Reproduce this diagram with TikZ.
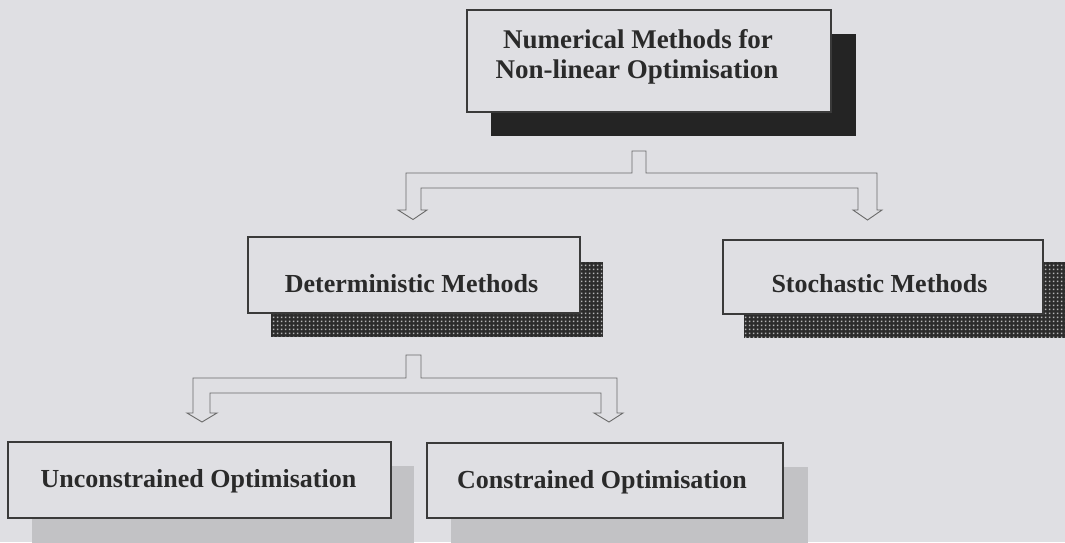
\documentclass[tikz,border=0pt]{standalone}
\usepackage{fontspec}
\setmainfont{Liberation Serif}
\usetikzlibrary{calc,patterns}
\definecolor{bg}{HTML}{DFDFE3}
\definecolor{boxline}{HTML}{3A3A3A}
\definecolor{txt}{HTML}{2A2A2A}
\definecolor{darkshadow}{HTML}{242424}
\definecolor{dotshadow}{HTML}{2C2C2C}
\definecolor{dotlight}{HTML}{B4B4B6}
\definecolor{lightshadow}{HTML}{C2C2C5}
\definecolor{forkline}{HTML}{6A6A6A}
\pgfdeclarepatternformonly{sqdots}{\pgfqpoint{0pt}{0pt}}{\pgfqpoint{4pt}{4pt}}{\pgfqpoint{4pt}{4pt}}{%
  \pgfpathrectangle{\pgfqpoint{1pt}{1pt}}{\pgfqpoint{2pt}{2pt}}\pgfusepath{fill}}
\pgfdeclarelayer{bglayer}
\pgfdeclarelayer{shadowlayer}
\pgfsetlayers{bglayer,shadowlayer,main}
\begin{document}
\begin{tikzpicture}[x=1pt,y=-1pt,
  box/.style={draw=boxline, line width=1.3pt, fill=bg, rectangle, inner sep=0pt},
  lbl/.style={anchor=base, inner sep=0pt, text=txt, font=\fontsize{26}{30}\selectfont\bfseries},
  toplbl/.style={lbl, font=\fontsize{27}{31}\selectfont\bfseries},
  fork/.style={draw=forkline, line width=0.9pt, line join=miter},
  dotshade/.style={fill=dotshadow, postaction={pattern=sqdots, pattern color=dotlight}}]
\begin{pgfonlayer}{bglayer}
\fill[bg] (0,0) rectangle (1065,542);
\end{pgfonlayer}
\useasboundingbox (0,0) rectangle (1065,542);

% boxes
\node[box, minimum width=364pt, minimum height=102pt] (top) at (649,61) {};
\node[box, minimum width=332pt, minimum height=76pt] (det) at (414,275) {};
\node[box, minimum width=320pt, minimum height=74pt] (sto) at (883,277) {};
\node[box, minimum width=383pt, minimum height=76pt] (unc) at (199.5,480) {};
\node[box, minimum width=356pt, minimum height=75pt] (con) at (605,480.5) {};

% labels
\node[toplbl] (toptext1) at (638,48) {Numerical Methods for};
\node[toplbl] (toptext2) at (637,78) {Non-linear Optimisation};
\node[lbl] (dettext) at (411.5,292) {Deterministic Methods};
\node[lbl] (stotext) at (879.5,292) {Stochastic Methods};
\node[lbl] (unctext) at (198.5,487) {Unconstrained Optimisation};
\node[lbl] (context) at (602,488) {Constrained Optimisation};

% shadows
\begin{pgfonlayer}{shadowlayer}
\fill[darkshadow] ($(top.north west)+(25,25)$) rectangle ($(top.south east)+(24,23)$);
\path[dotshade] ($(det.north west)+(24,26)$) rectangle ($(det.south east)+(22,23)$);
\path[dotshade] ($(sto.north west)+(22,23)$) rectangle ($(sto.south east)+(22,23)$);
\fill[lightshadow] ($(unc.north west)+(25,25)$) rectangle ($(unc.south east)+(22,26)$);
\fill[lightshadow] ($(con.north west)+(25,25)$) rectangle ($(con.south east)+(24,26)$);
\end{pgfonlayer}

% fork connectors
\draw[fork] (632,151) -- (646,151) -- (646,173) -- (877,173) -- (877,210) -- (882,210)
  -- (867.5,220) -- (853,210) -- (858,210) -- (858,188) -- (421,188) -- (421,210)
  -- (427,210) -- (413,219.5) -- (398,210) -- (406,210) -- (406,173) -- (632,173) -- cycle;
\draw[fork] (406,355) -- (421,355) -- (421,378) -- (617,378) -- (617,413) -- (623,413)
  -- (609,422) -- (594,413) -- (601,413) -- (601,393) -- (210,393) -- (210,413)
  -- (217,413) -- (202,422) -- (187,413) -- (193,413) -- (193,378) -- (406,378) -- cycle;
\end{tikzpicture}
\end{document}
